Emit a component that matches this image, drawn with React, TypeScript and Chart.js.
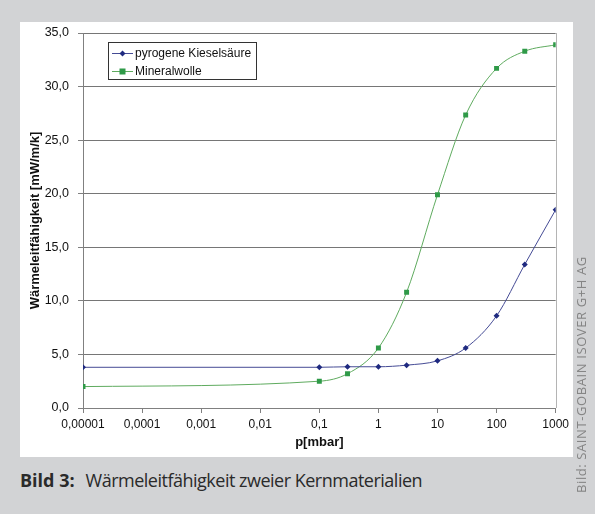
import React, { useEffect, useRef } from "react";
import { Chart, registerables } from "chart.js";

Chart.register(...registerables);

// ---- data ----
const pressure = [0.00001, 0.1, 0.3, 1, 3, 10, 30, 100, 300, 1000];
const kieselsaeure = [3.8, 3.8, 3.85, 3.85, 4.0, 4.4, 5.6, 8.6, 13.4, 18.5];
const mineralwolle = [2.0, 2.5, 3.2, 5.6, 10.8, 19.9, 27.35, 31.7, 33.3, 33.9];
const xTickValues = [0.00001, 0.0001, 0.001, 0.01, 0.1, 1, 10, 100, 1000];
const seriesNames = ["pyrogene Kieselsäure", "Mineralwolle"];
const yAxisTitle = "Wärmeleitfähigkeit [mW/m/k]";
const xAxisTitle = "p[mbar]";
const captionBold = "Bild 3:";
const captionText = "Wärmeleitfähigkeit zweier Kernmaterialien";
const creditText = "Bild: SAINT-GOBAIN ISOVER G+H AG";

const FONT = "'Liberation Sans', Arial, sans-serif";

const fmtX = (v: number) => String(v).replace(".", ",");
const fmtY = (v: number) => v.toFixed(1).replace(".", ",");

const legendPlugin = {
  id: "boxLegend",
  afterDraw(chart: any) {
    const ctx = chart.ctx as CanvasRenderingContext2D;
    const x0 = 88;
    const y0 = 20;
    const w = 148;
    const h = 37;
    ctx.save();
    ctx.fillStyle = "#ffffff";
    ctx.fillRect(x0, y0, w, h);
    ctx.strokeStyle = "#333333";
    ctx.lineWidth = 1;
    ctx.strokeRect(x0 + 0.5, y0 + 0.5, w, h);
    chart.data.datasets.forEach((ds: any, i: number) => {
      const cy = y0 + 11.5 + i * 18;
      ctx.strokeStyle = ds.borderColor;
      ctx.lineWidth = 1;
      ctx.beginPath();
      ctx.moveTo(x0 + 4, cy);
      ctx.lineTo(x0 + 25, cy);
      ctx.stroke();
      ctx.fillStyle = ds.pointBackgroundColor;
      const mx = x0 + 14.5;
      if (ds.pointStyle === "rectRot") {
        ctx.beginPath();
        ctx.moveTo(mx, cy - 3);
        ctx.lineTo(mx + 3, cy);
        ctx.lineTo(mx, cy + 3);
        ctx.lineTo(mx - 3, cy);
        ctx.closePath();
        ctx.fill();
      } else {
        ctx.fillRect(mx - 3, cy - 3, 6, 6);
      }
      ctx.fillStyle = "#111111";
      ctx.font = `12px ${FONT}`;
      ctx.textBaseline = "middle";
      ctx.textAlign = "left";
      ctx.fillText(ds.label, x0 + 27, cy);
    });
    ctx.restore();
  },
};

const borderPlugin = {
  id: "rightBorder",
  beforeDatasetsDraw(chart: any) {
    const { ctx, chartArea } = chart;
    ctx.save();
    ctx.strokeStyle = "#b4b4b4";
    ctx.lineWidth = 1;
    ctx.beginPath();
    ctx.moveTo(Math.round(chartArea.right) + 0.5, chartArea.top);
    ctx.lineTo(Math.round(chartArea.right) + 0.5, chartArea.bottom);
    ctx.stroke();
    ctx.restore();
  },
};

export default function App() {
  const canvasRef = useRef<HTMLCanvasElement | null>(null);

  useEffect(() => {
    if (!canvasRef.current) return;
    const chart = new Chart(canvasRef.current, {
      type: "line",
      data: {
        datasets: [
          {
            label: seriesNames[0],
            data: pressure.map((p, i) => ({ x: p, y: kieselsaeure[i] })),
            borderColor: "#454b95",
            backgroundColor: "#1f2a80",
            pointBackgroundColor: "#1f2a80",
            pointBorderColor: "#1f2a80",
            pointStyle: "rectRot",
            pointRadius: 3,
            pointBorderWidth: 0,
            borderWidth: 1,
            cubicInterpolationMode: "monotone",
          },
          {
            label: seriesNames[1],
            data: pressure.map((p, i) => ({ x: p, y: mineralwolle[i] })),
            borderColor: "#5fab5f",
            backgroundColor: "#2f9a48",
            pointBackgroundColor: "#2f9a48",
            pointBorderColor: "#2f9a48",
            pointStyle: "rect",
            pointRadius: 3.5,
            pointBorderWidth: 0,
            borderWidth: 1,
            cubicInterpolationMode: "monotone",
          },
        ],
      } as any,
      options: {
        animation: false,
        responsive: false,
        maintainAspectRatio: false,
        layout: { padding: { top: 11, right: 16, left: 0, bottom: 0 } },
        plugins: {
          legend: { display: false },
          tooltip: { enabled: false },
        },
        scales: {
          x: {
            type: "logarithmic",
            min: 0.00001,
            max: 1000,
            afterBuildTicks: (axis: any) => {
              axis.ticks = xTickValues.map((v) => ({ value: v }));
            },
            afterFit: (scale: any) => {
              scale.height = 49;
            },
            ticks: {
              autoSkip: false,
              maxRotation: 0,
              padding: 4,
              color: "#111111",
              font: { family: FONT, size: 12 },
              callback: (v: any) => fmtX(Number(v)),
            },
            grid: {
              drawOnChartArea: false,
              tickLength: 5,
              tickColor: "#808080",
              color: "#808080",
            },
            border: { color: "#808080", width: 1 },
            title: {
              display: true,
              text: xAxisTitle,
              color: "#111111",
              font: { family: FONT, size: 13, weight: "bold" },
              padding: { top: 0, bottom: 7 },
            },
          },
          y: {
            type: "linear",
            min: 0,
            max: 35,
            afterFit: (scale: any) => {
              scale.width = 63;
              scale.paddingTop = 2;
              scale.paddingBottom = 2;
            },
            ticks: {
              stepSize: 5,
              padding: 9,
              color: "#111111",
              font: { family: FONT, size: 12.5 },
              callback: (v: any) => fmtY(Number(v)),
            },
            grid: {
              color: "#767676",
              tickLength: 5,
              tickColor: "#808080",
            },
            border: { color: "#808080", width: 1 },
            title: {
              display: true,
              text: yAxisTitle,
              color: "#111111",
              font: { family: FONT, size: 13, weight: "bold" },
              padding: { top: 8, bottom: 0 },
            },
          },
        },
      } as any,
      plugins: [borderPlugin, legendPlugin],
    });
    return () => chart.destroy();
  }, []);

  return (
    <div
      style={{
        position: "fixed",
        left: 0,
        top: 0,
        width: 595,
        height: 514,
        background: "#d2d3d5",
        overflow: "hidden",
      }}
    >
      <div
        style={{
          position: "absolute",
          left: 20,
          top: 22,
          width: 553,
          height: 435,
          background: "#ffffff",
        }}
      >
        <canvas ref={canvasRef} width={553} height={435} style={{ display: "block" }} />
      </div>
      <div
        style={{
          position: "absolute",
          left: 20,
          top: 468,
          fontFamily: "'Open Sans', 'Noto Sans', sans-serif",
          fontSize: 18,
          color: "#2a2a2a",
          whiteSpace: "nowrap",
          lineHeight: "24px",
        }}
      >
        <span style={{ fontWeight: 700 }}>{captionBold}</span>
        <span style={{ letterSpacing: "-0.5px", marginLeft: 11 }}>{captionText}</span>
      </div>
      <div
        style={{
          position: "absolute",
          left: 574,
          top: 493,
          transform: "rotate(-90deg)",
          transformOrigin: "0 0",
          fontFamily: "'Open Sans', 'Noto Sans', sans-serif",
          fontSize: 13,
          letterSpacing: "0.6px",
          color: "#858585",
          whiteSpace: "nowrap",
          lineHeight: "15px",
        }}
      >
        {creditText}
      </div>
    </div>
  );
}
